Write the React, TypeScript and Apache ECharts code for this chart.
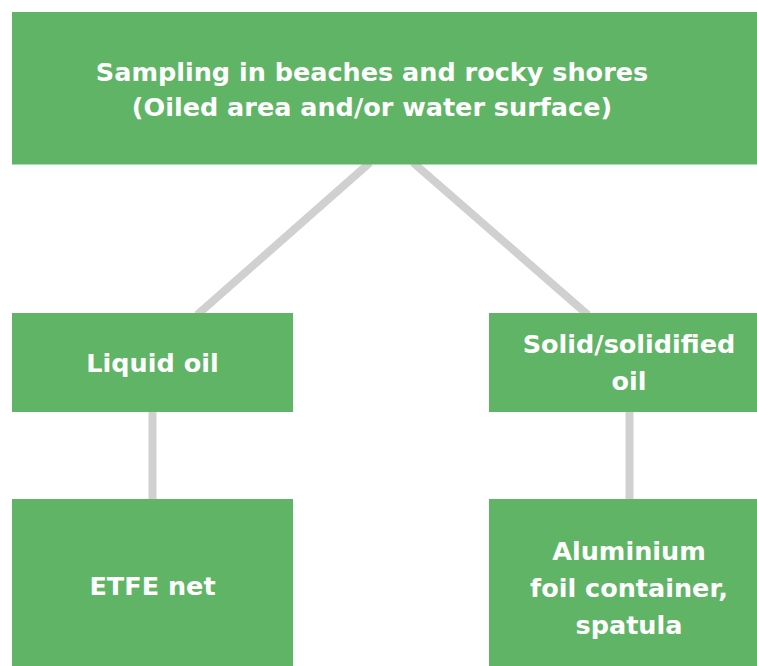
import React, { useEffect, useRef } from "react";
import * as echarts from "echarts";

// ---- data ----
const nodeLabels: string[] = [
  "Sampling in beaches and rocky shores\n(Oiled area and/or water surface)",
  "Liquid oil",
  "Solid/solidified\noil",
  "ETFE net",
  "Aluminium\nfoil container,\nspatula",
];
const edgeFrom: number[] = [0, 0, 1, 2];
const edgeTo: number[] = [1, 2, 3, 4];

// ---- layout (positions / sizes) ----
const boxX = [12, 12, 489, 12, 489];
const boxY = [12, 313, 313, 499, 499];
const boxW = [760, 281, 281, 281, 281];
const boxH = [152.5, 99, 99, 180, 180];
const textCX = [372, 152.5, 629, 152.5, 629];
const textCY = [89.5, 362.5, 362.5, 586, 588];
// edge anchor x at parent bottom and child top
const edgeX1 = [370, 413, 152.5, 629.5];
const edgeX2 = [197, 588, 152.5, 629.5];

const GREEN = "#5fb565";
const LINE = "#d0d0d0";

export default function App() {
  const ref = useRef<HTMLDivElement>(null);
  useEffect(() => {
    if (!ref.current) return;
    const chart = echarts.init(ref.current, undefined, { renderer: "svg" });
    const elements: any[] = [];
    edgeFrom.forEach((f, i) => {
      const t = edgeTo[i];
      elements.push({
        type: "line",
        z: 1,
        shape: {
          x1: edgeX1[i],
          y1: boxY[f] + boxH[f] - 2,
          x2: edgeX2[i],
          y2: boxY[t] + 2,
        },
        style: { stroke: LINE, lineWidth: 8 },
      });
    });
    nodeLabels.forEach((label, i) => {
      elements.push({
        type: "rect",
        z: 2,
        shape: { x: boxX[i], y: boxY[i], width: boxW[i], height: boxH[i] },
        style: { fill: GREEN },
      });
      elements.push({
        type: "text",
        z: 3,
        style: {
          text: label,
          x: textCX[i],
          y: textCY[i],
          textAlign: "center",
          textVerticalAlign: "middle",
          fill: "#ffffff",
          fontSize: 25.5,
          fontWeight: "bold",
          fontFamily: "DejaVu Sans",
          lineHeight: i === 0 ? 35 : 37,
        },
      });
    });
    chart.setOption({
      animation: false,
      backgroundColor: "#ffffff",
      graphic: { elements },
    });
    return () => chart.dispose();
  }, []);
  return (
    <div
      ref={ref}
      style={{ position: "fixed", left: 0, top: 0, width: 757, height: 666 }}
    />
  );
}
